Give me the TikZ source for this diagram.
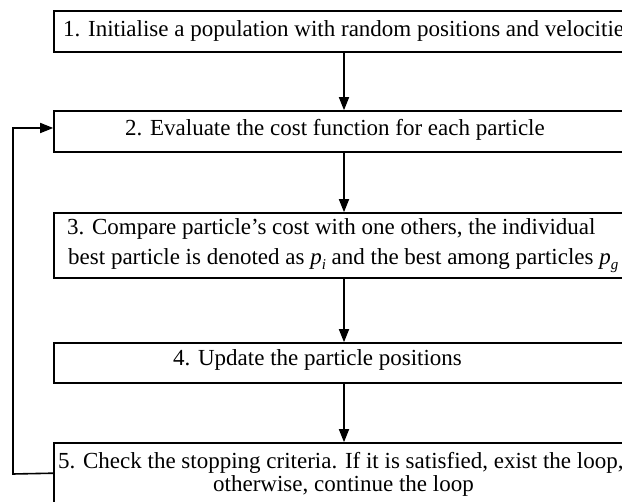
\documentclass[tikz,border=0pt]{standalone}
\usepackage{fontspec}
\setmainfont{Liberation Serif}
\usetikzlibrary{arrows.meta}
\newcommand{\subit}[1]{\raisebox{-0.22em}{\fontsize{15}{15}\selectfont\textit{#1}}}
\begin{document}
\begin{tikzpicture}[x=1pt,y=1pt,
  box/.style={draw, line width=1.6pt, rectangle, minimum width=580pt, inner sep=0pt},
  txt/.style={inner sep=0pt, font=\fontsize{23}{27}\selectfont},
  arr/.style={line width=1.6pt, -{Triangle[length=13pt,width=10pt]}}]
\useasboundingbox (0,0) rectangle (622,-502);
\clip (0,0) rectangle (622,-502);
\node[box, minimum height=41pt] (b1) at (344,-31.5) {};
\node[box, minimum height=41pt] (b2) at (344,-131.5) {};
\node[box, minimum height=65pt] (b3) at (344,-245.5) {};
\node[box, minimum height=40pt] (b4) at (344,-363) {};
\node[box, minimum height=80pt] (b5) at (344,-483) {};
\node[txt, anchor=west] (t1) at (63,-31) {1. Initialise a population with random positions and velocities};
\node[txt, anchor=west] (t2) at (125,-130) {2. Evaluate the cost function for each particle};
\node[txt, anchor=west] (t3a) at (67,-229) {3. Compare particle’s cost with one others, the individual};
\node[txt, anchor=west] (t3b) at (68,-261) {best particle is denoted as \textit{p}\subit{i} and the best among particles \textit{p}\subit{g}};
\node[txt, anchor=west] (t4) at (173,-360) {4. Update the particle positions};
\node[txt, anchor=west] (t5a) at (58,-463) {5. Check the stopping criteria. If it is satisfied, exist the loop,};
\node[txt, anchor=west] (t5b) at (213,-486) {otherwise, continue the loop};
\draw[arr] (b1.south) -- (b2.north);
\draw[arr] (b2.south) -- (b3.north);
\draw[arr] (b3.south) -- (b4.north);
\draw[arr] (b4.south) -- (b5.north);
\coordinate (fb) at (13,-474);
\draw[arr] ([yshift=-31pt]b5.north west) -- (fb) |- ([yshift=3.5pt]b2.west);
\end{tikzpicture}
\end{document}
